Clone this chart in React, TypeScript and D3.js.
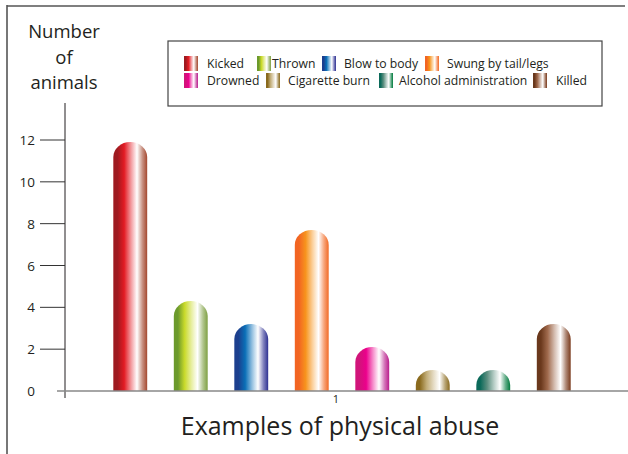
import React from 'react';
import * as d3 from 'd3';

// Chart data
const categories = [
  'Kicked',
  'Thrown',
  'Blow to body',
  'Swung by tail/legs',
  'Drowned',
  'Cigarette burn',
  'Alcohol administration',
  'Killed',
];
const counts = [11.9, 4.3, 3.2, 7.7, 2.1, 1.0, 1.0, 3.2];
const yTicks = [0, 2, 4, 6, 8, 10, 12];
const groupLabel = '1';

// gradient colours per category: [left edge, main, right edge]
const palette: [string, string, string][] = [
  ['#9e1a20', '#e31b23', '#a4482f'],
  ['#6c9a2c', '#c9da2b', '#7ea043'],
  ['#1c3f8e', '#0a6fb7', '#2e3192'],
  ['#f26522', '#f7941d', '#f26a25'],
  ['#d1147a', '#ec008c', '#b91d8c'],
  ['#8a6a1e', '#c2ad78', '#8a6a1e'],
  ['#0c6a5a', '#5c8f80', '#007a3d'],
  ['#6a381c', '#a06a4d', '#7a3a1c'],
];

// legend layout (row, x of swatch, x of label)
const legendPos = [
  [0, 184, 207],
  [0, 257, 272],
  [0, 322, 344],
  [0, 425, 447],
  [1, 184, 207],
  [1, 266, 288],
  [1, 379, 399],
  [1, 533, 556],
];

const W = 628;
const H = 454;
const FONT = "'Open Sans', 'DejaVu Sans', sans-serif";
const INK = '#231f20';

const App = () => {
  const y = d3.scaleLinear().domain([0, 12]).range([391, 140]);
  const x = d3
    .scaleBand<string>()
    .domain(categories)
    .range([100, 584])
    .paddingInner(0.44)
    .paddingOuter(0.22);

  const bw = x.bandwidth();
  const capH = 15;

  // rounded-top bar path
  const barPath = (cat: string, v: number) => {
    const x0 = x(cat) as number;
    const x1 = x0 + bw;
    const top = y(v);
    const base = y(0);
    const shoulder = Math.min(top + capH, base);
    return `M${x0},${base}L${x0},${shoulder}A${bw / 2},${shoulder - top} 0 0 1 ${x1},${shoulder}L${x1},${base}Z`;
  };

  return (
    <svg width={W} height={H} style={{ position: 'absolute', left: 0, top: 0, background: '#fff' }}>
      <defs>
        {palette.map((c, i) => (
          <linearGradient key={i} id={`g${i}`} x1="0" x2="1" y1="0" y2="0">
            <stop offset="0" stopColor={c[0]} />
            <stop offset="0.12" stopColor={c[0]} />
            <stop offset="0.32" stopColor={c[1]} />
            <stop offset="0.52" stopColor={d3.interpolateRgb(c[1], '#ffffff')(0.55)} />
            <stop offset="0.7" stopColor="#ffffff" />
            <stop offset="0.86" stopColor={d3.interpolateRgb(c[2], '#ffffff')(0.4)} />
            <stop offset="1" stopColor={c[2]} />
          </linearGradient>
        ))}
      </defs>

      {/* frame */}
      <line x1={7} x2={7} y1={5} y2={H} stroke="#555" strokeWidth={1.6} />
      <line x1={7} x2={625} y1={6} y2={6} stroke="#555" strokeWidth={1.6} />

      {/* y title */}
      <text x={64} y={38} textAnchor="middle" fontFamily={FONT} fontSize={18.5} fill={INK}>Number</text>
      <text x={64} y={64} textAnchor="middle" fontFamily={FONT} fontSize={18.5} fill={INK}>of</text>
      <text x={64} y={89} textAnchor="middle" fontFamily={FONT} fontSize={18.5} fill={INK}>animals</text>

      {/* y axis */}
      <line x1={65} x2={65} y1={103} y2={398} stroke={INK} strokeWidth={1} />
      {yTicks.map((t) => (
        <g key={t}>
          {t > 0 && <line x1={40} x2={65} y1={y(t)} y2={y(t)} stroke="#333" strokeWidth={1} />}
          <text x={35} y={y(t) + 5} textAnchor="end" fontFamily={FONT} fontSize={13.5} fill={INK}>{t}</text>
        </g>
      ))}

      {/* bars */}
      {categories.map((c, i) => (
        <path key={c} d={barPath(c, counts[i])} fill={`url(#g${i})`} />
      ))}

      {/* x axis */}
      <line x1={57} x2={W} y1={y(0)} y2={y(0)} stroke="#888" strokeWidth={1.5} />
      <text x={336} y={403} textAnchor="middle" fontFamily={FONT} fontSize={11} fill={INK}>{groupLabel}</text>
      <text x={340} y={435} textAnchor="middle" fontFamily={FONT} fontSize={25} fill={INK}>Examples of physical abuse</text>

      {/* legend */}
      <rect x={168} y={41} width={434} height={65} fill="#fff" stroke="#444" strokeWidth={1.2} />
      {categories.map((c, i) => {
        const [row, sx, tx] = legendPos[i];
        const ty = row === 0 ? 56 : 73;
        return (
          <g key={c}>
            <rect x={sx} y={ty} width={14} height={15} fill={`url(#g${i})`} />
            <text x={tx} y={ty + 12} fontFamily={FONT} fontSize={12.2} fill={INK}>{c}</text>
          </g>
        );
      })}
    </svg>
  );
};

export default App;
